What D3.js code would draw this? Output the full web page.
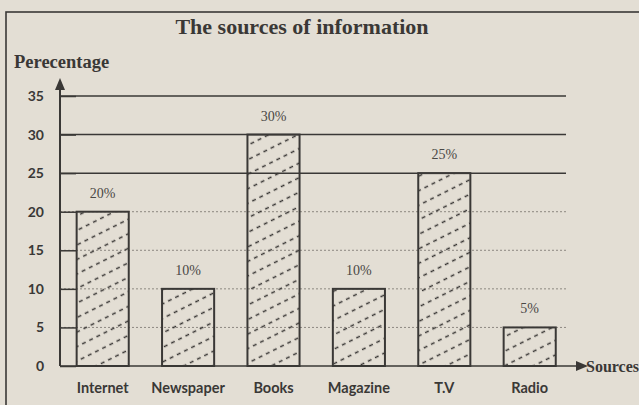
<!DOCTYPE html>
<html lang="en">
  <head>
    <meta charset="utf-8" />
    <title>The sources of information</title>
    <script src="https://d3js.org/d3.v7.min.js"></script>
    <style>
      body {
        margin: 0;
        background: #e3ded4;
      }
      svg {
        display: block;
      }
    </style>
  </head>
  <body>
    <script>
      // data
      var sources = ["Internet", "Newspaper", "Books", "Magazine", "T.V", "Radio"];
      var percents = [20, 10, 30, 10, 25, 5];
      var yTicks = [0, 5, 10, 15, 20, 25, 30, 35];
      var solidLines = [25, 30, 35];
      var lightLines = [5, 10, 15, 20];

      var ink = "#3a3836";
      var width = 639,
        height = 405;

      var svg = d3
        .select("body")
        .append("svg")
        .attr("width", width)
        .attr("height", height);

      // hatching for the bars
      var defs = svg.append("defs");
      var pat = defs
        .append("pattern")
        .attr("id", "hatch")
        .attr("patternUnits", "userSpaceOnUse")
        .attr("width", 24)
        .attr("height", 13)
        .attr("patternTransform", "rotate(-26.5)");
      pat
        .append("line")
        .attr("x1", 0)
        .attr("y1", 6.5)
        .attr("x2", 24)
        .attr("y2", 6.5)
        .attr("stroke", ink)
        .attr("stroke-width", 1.7)
        .attr("stroke-dasharray", "4,4");

      // frame
      svg
        .append("rect")
        .attr("x", 6)
        .attr("y", 12)
        .attr("width", 700)
        .attr("height", 500)
        .attr("fill", "none")
        .attr("stroke", ink)
        .attr("stroke-width", 1.6);

      var x = d3
        .scaleBand()
        .domain(sources)
        .range([60, 572.4])
        .paddingInner(0.39)
        .paddingOuter(0.195);
      var y = d3.scaleLinear().domain([0, 35]).range([366, 96]);

      // grid lines
      svg
        .selectAll(".light")
        .data(lightLines)
        .enter()
        .append("line")
        .attr("class", "light")
        .attr("x1", 60)
        .attr("x2", 566)
        .attr("y1", function (d) {
          return y(d);
        })
        .attr("y2", function (d) {
          return y(d);
        })
        .attr("stroke", "#8d8881")
        .attr("stroke-width", 1)
        .attr("stroke-dasharray", "2,2");

      svg
        .selectAll(".solid")
        .data(solidLines)
        .enter()
        .append("line")
        .attr("class", "solid")
        .attr("x1", 60)
        .attr("x2", 566)
        .attr("y1", function (d) {
          return y(d);
        })
        .attr("y2", function (d) {
          return y(d);
        })
        .attr("stroke", ink)
        .attr("stroke-width", 1.5);

      // y axis with short ticks towards the first bar
      var yAxis = d3
        .axisLeft(y)
        .tickValues(yTicks)
        .tickSizeInner(-16)
        .tickSizeOuter(0)
        .tickPadding(16);
      var gy = svg.append("g").attr("transform", "translate(60,0)").call(yAxis);
      gy.select(".domain").remove();
      gy.selectAll(".tick line").attr("stroke", ink).attr("stroke-width", 1.5);
      gy.selectAll(".tick text")
        .attr("fill", ink)
        .style("font-family", "Lato, sans-serif")
        .style("font-weight", "bold")
        .style("font-size", "14px");

      // bars
      svg
        .selectAll(".bar")
        .data(percents)
        .enter()
        .append("rect")
        .attr("class", "bar")
        .attr("x", function (d, i) {
          return x(sources[i]);
        })
        .attr("y", function (d) {
          return y(d);
        })
        .attr("width", x.bandwidth())
        .attr("height", function (d) {
          return y(0) - y(d);
        })
        .attr("fill", "url(#hatch)")
        .attr("stroke", ink)
        .attr("stroke-width", 2);

      // value labels
      svg
        .selectAll(".val")
        .data(percents)
        .enter()
        .append("text")
        .attr("class", "val")
        .attr("x", function (d, i) {
          return x(sources[i]) + x.bandwidth() / 2;
        })
        .attr("y", function (d) {
          return y(d) - 14;
        })
        .attr("text-anchor", "middle")
        .attr("fill", "#4a4845")
        .style("font-family", "'Liberation Serif', serif")
        .style("font-size", "14px")
        .text(function (d) {
          return d + "%";
        });

      // category labels
      svg
        .selectAll(".cat")
        .data(sources)
        .enter()
        .append("text")
        .attr("class", "cat")
        .attr("x", function (d) {
          return x(d) + x.bandwidth() / 2;
        })
        .attr("y", 393)
        .attr("text-anchor", "middle")
        .attr("fill", ink)
        .style("font-family", "Lato, sans-serif")
        .style("font-weight", "bold")
        .style("font-size", "14.5px")
        .text(function (d) {
          return d;
        });

      // axes with arrows
      svg
        .append("line")
        .attr("x1", 60)
        .attr("x2", 60)
        .attr("y1", y(0))
        .attr("y2", 86)
        .attr("stroke", ink)
        .attr("stroke-width", 2);
      svg
        .append("path")
        .attr("d", "M60,78 L55,90 L65,90 Z")
        .attr("fill", ink);

      svg
        .append("line")
        .attr("x1", 60)
        .attr("x2", 580)
        .attr("y1", y(0))
        .attr("y2", y(0))
        .attr("stroke", ink)
        .attr("stroke-width", 1.5);
      svg
        .append("path")
        .attr("d", "M588," + y(0) + " L576," + (y(0) - 5) + " L576," + (y(0) + 5) + " Z")
        .attr("fill", ink);

      svg
        .append("text")
        .attr("x", 586)
        .attr("y", 372)
        .attr("fill", ink)
        .style("font-family", "'Liberation Serif', serif")
        .style("font-weight", "bold")
        .style("font-size", "16px")
        .text("Sources");

      // titles
      svg
        .append("text")
        .attr("x", 302)
        .attr("y", 34)
        .attr("text-anchor", "middle")
        .attr("fill", ink)
        .style("font-family", "'Liberation Serif', serif")
        .style("font-weight", "bold")
        .style("font-size", "22px")
        .text("The sources of information");

      svg
        .append("text")
        .attr("x", 14)
        .attr("y", 68)
        .attr("fill", ink)
        .style("font-family", "'Liberation Serif', serif")
        .style("font-weight", "bold")
        .style("font-size", "18.5px")
        .text("Perecentage");
    </script>
  </body>
</html>
